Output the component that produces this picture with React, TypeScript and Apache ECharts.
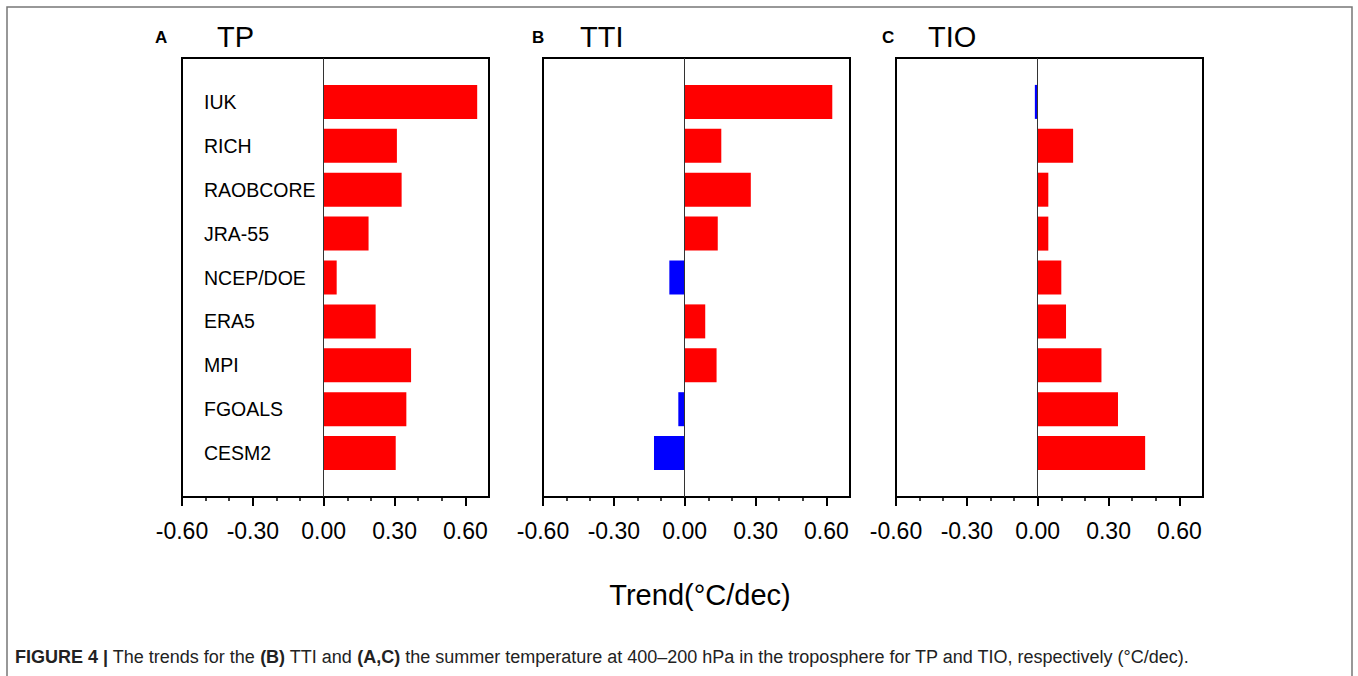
import React, { useEffect, useRef } from "react";
import * as echarts from "echarts";

const categories = ["IUK", "RICH", "RAOBCORE", "JRA-55", "NCEP/DOE", "ERA5", "MPI", "FGOALS", "CESM2"];
const tpValues = [0.65, 0.31, 0.33, 0.19, 0.055, 0.22, 0.37, 0.35, 0.305];
const ttiValues = [0.625, 0.155, 0.28, 0.14, -0.065, 0.087, 0.135, -0.027, -0.13];
const tioValues = [-0.012, 0.15, 0.045, 0.045, 0.1, 0.12, 0.27, 0.34, 0.455];
const panelLetters = ["A", "B", "C"];
const panelTitles = ["TP", "TTI", "TIO"];
const majorTicks = [-0.6, -0.3, 0, 0.3, 0.6];
const minorTicks = [-0.5, -0.4, -0.2, -0.1, 0.1, 0.2, 0.4, 0.5];
const xLabel = "Trend(°C/dec)";

const FONT = "Liberation Sans, Arial, sans-serif";

export default function App() {
  const ref = useRef<HTMLDivElement>(null);
  useEffect(() => {
    if (!ref.current) return;
    const chart = echarts.init(ref.current, undefined, { renderer: "svg" });
    const panels = [tpValues, ttiValues, tioValues];
    const gridLefts = [182, 543, 896];
    const letterX = [155, 532, 882];
    const titleX = [217, 580, 928];
    const grids: any[] = [];
    const xAxes: any[] = [];
    const yAxes: any[] = [];
    const series: any[] = [];
    const graphics: any[] = [];
    panels.forEach((vals, i) => {
      grids.push({
        left: gridLefts[i], top: 58, width: 307, height: 439,
        show: true, borderColor: "#000", borderWidth: 2, backgroundColor: "transparent",
      });
      xAxes.push({
        type: "value", gridIndex: i, min: -0.6, max: 0.7, interval: 0.3,
        axisLine: { show: true, onZero: false, lineStyle: { color: "#000", width: 2 } },
        axisTick: { show: true, customValues: majorTicks, length: 9, lineStyle: { color: "#000", width: 2 } },
        axisLabel: {
          customValues: majorTicks, margin: 22, fontSize: 23, color: "#000", fontFamily: FONT,
          formatter: (v: number) => v.toFixed(2),
        },
        splitLine: { show: false },
      });
      xAxes.push({
        type: "value", gridIndex: i, min: -0.6, max: 0.7, position: "bottom",
        axisLine: { show: false },
        axisTick: { show: true, customValues: minorTicks, length: 4, lineStyle: { color: "#000", width: 1.5 } },
        axisLabel: { show: false },
        splitLine: { show: false },
      });
      yAxes.push({
        type: "category", gridIndex: i, data: ["", ...categories, ""], boundaryGap: false, inverse: true,
        axisLine: { show: false }, axisTick: { show: false }, splitLine: { show: false },
        axisLabel: {
          show: i === 0, inside: true, margin: 22, interval: 0, fontSize: 19.5, color: "#000", fontFamily: FONT,
        },
      });
      series.push({
        type: "bar", xAxisIndex: i * 2, yAxisIndex: i, barWidth: 34,
        data: ["-", ...vals.map((v) => ({ value: v, itemStyle: { color: v >= 0 ? "#ff0000" : "#0000ff" } })), "-"],
        markLine: {
          silent: true, symbol: ["none", "none"], label: { show: false },
          lineStyle: { color: "#333", width: 1, type: "solid" },
          data: [{ xAxis: 0 }],
        },
      });
      graphics.push({
        type: "text", left: letterX[i], top: 29,
        style: { text: panelLetters[i], font: `bold 17px ${FONT}`, fill: "#000" },
      });
      graphics.push({
        type: "text", left: titleX[i], top: 22,
        style: { text: panelTitles[i], font: `29px ${FONT}`, fill: "#000" },
      });
    });
    graphics.push({
      type: "rect", shape: { x: 7, y: 7, width: 1345, height: 720 },
      style: { fill: "none", stroke: "#777", lineWidth: 1.5 },
    });
    graphics.push({
      type: "text", x: 700, y: 595,
      style: { text: xLabel, font: `29px ${FONT}`, fill: "#000", textAlign: "center", textVerticalAlign: "middle" },
    });
    graphics.push({
      type: "text", x: 15, y: 657,
      style: {
        text: "{b|FIGURE 4 |} The trends for the {b|(B)} TTI and {b|(A,C)} the summer temperature at 400–200 hPa in the troposphere for TP and TIO, respectively (°C/dec).",
        font: `18px ${FONT}`, fill: "#222", textVerticalAlign: "middle",
        rich: { b: { fontWeight: "bold", fontSize: 18, fontFamily: FONT, fill: "#222" } },
      },
    });
    chart.setOption({
      animation: false,
      backgroundColor: "#fff",
      grid: grids, xAxis: xAxes, yAxis: yAxes, series, graphic: graphics,
    });
    return () => chart.dispose();
  }, []);
  return <div ref={ref} style={{ position: "absolute", left: 0, top: 0, width: 1358, height: 676 }} />;
}
